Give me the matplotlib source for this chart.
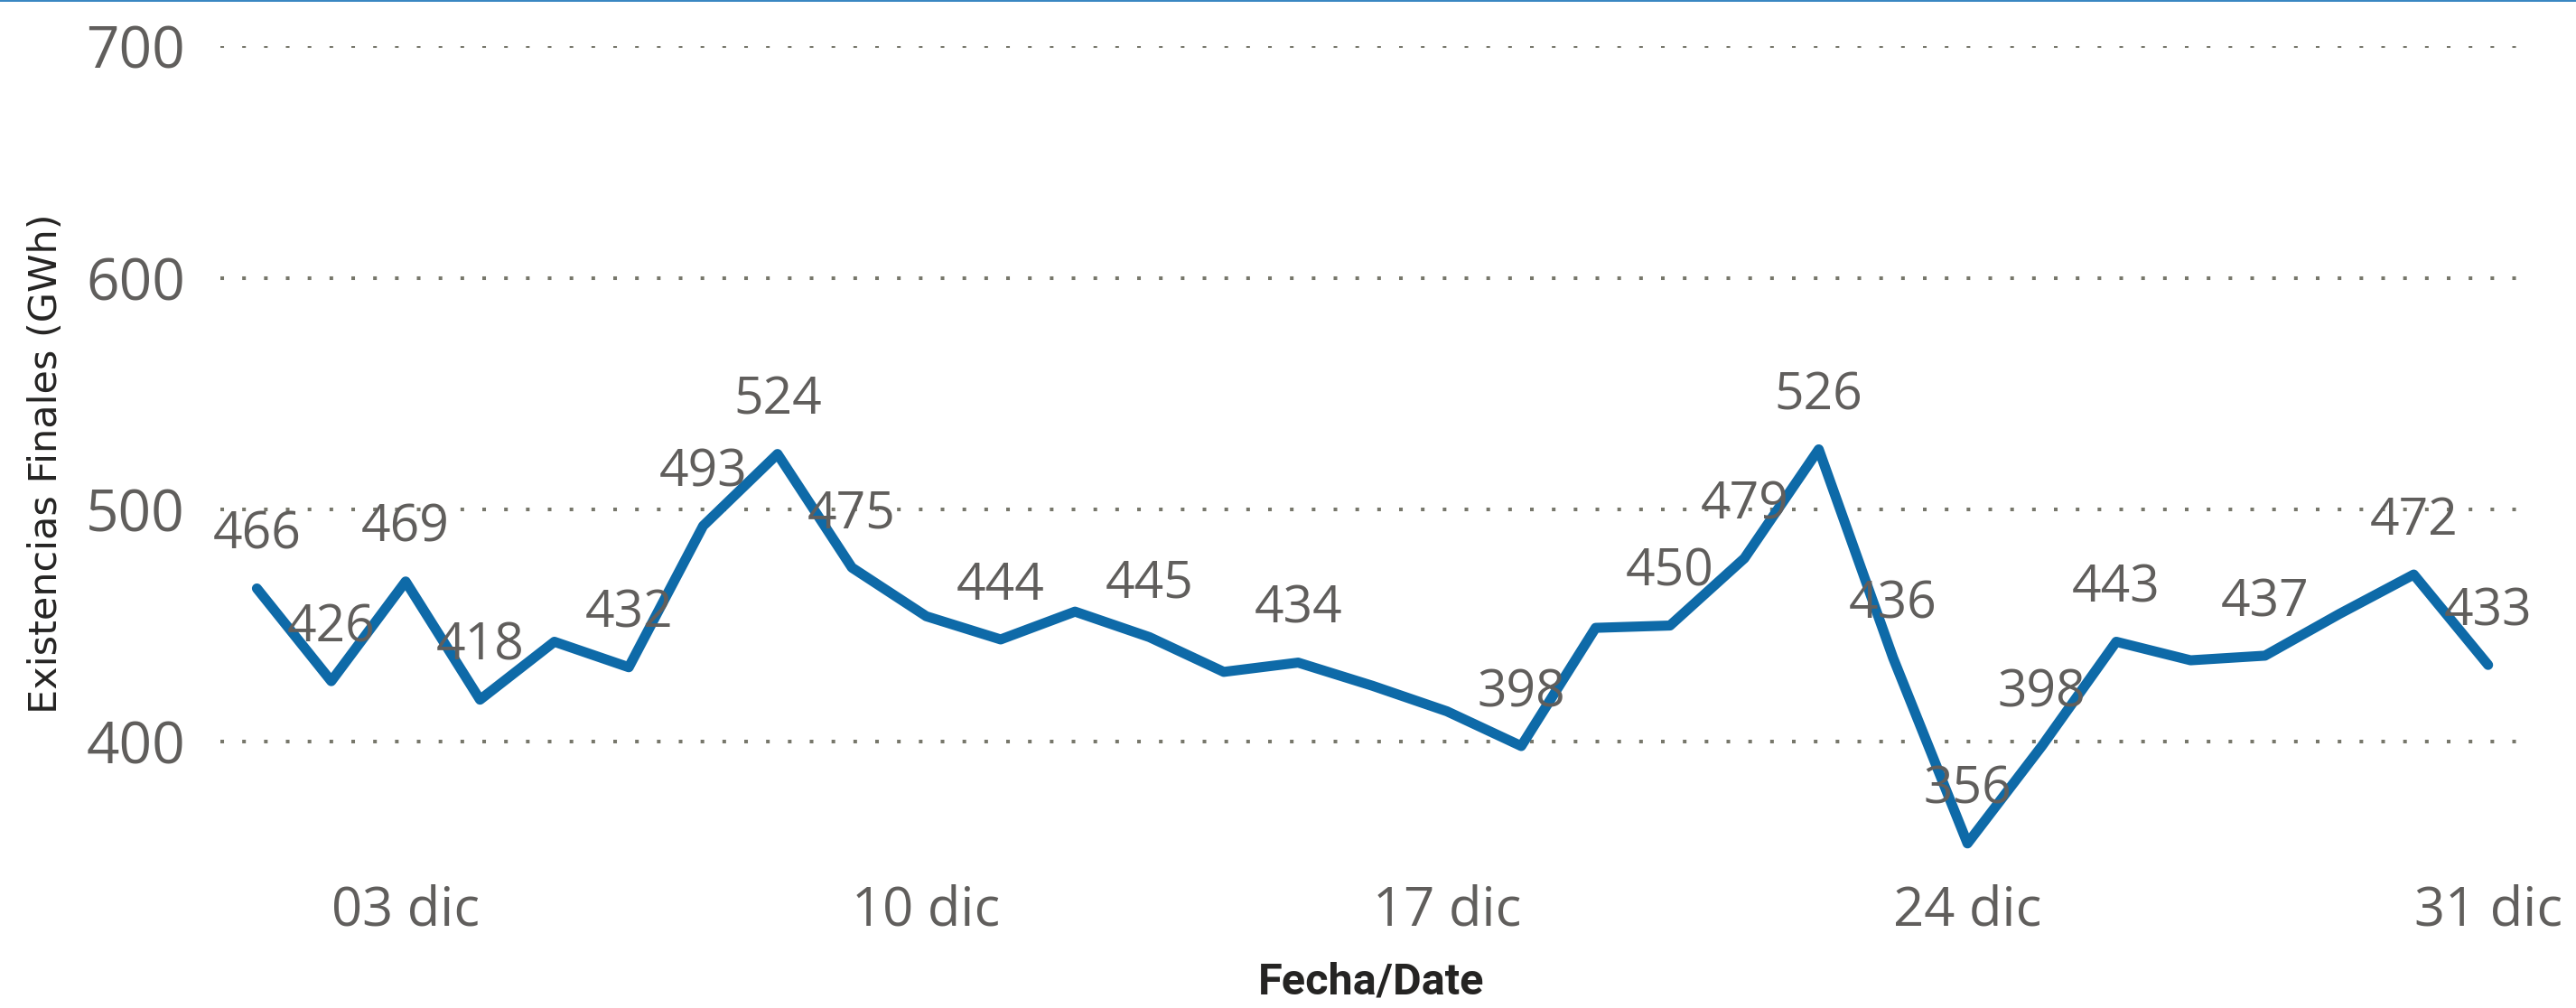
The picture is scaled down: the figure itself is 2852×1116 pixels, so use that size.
import matplotlib
matplotlib.use("Agg")
import matplotlib.pyplot as plt
from matplotlib.patches import Rectangle

# daily values, 1..31 dic
days = list(range(1, 32))
values = [466, 426, 469, 418, 443, 432, 493, 524, 475, 454,
          444, 456, 445, 430, 434, 424, 413, 398, 449, 450,
          479, 526, 436, 356, 398, 443, 435, 437, 455, 472, 433]
# which points carry a data label in the original
show_label = [1, 1, 1, 1, 0, 1, 1, 1, 1, 0,
              1, 0, 1, 0, 1, 0, 0, 1, 0, 1,
              1, 1, 1, 1, 1, 1, 0, 1, 0, 1, 1]
tick_days = [3, 10, 17, 24, 31]
tick_labels = ["03 dic", "10 dic", "17 dic", "24 dic", "31 dic"]
y_ticks = [400, 500, 600, 700]

line_color = "#0e6aa8"
text_color = "#605e5c"
grid_color = "#77776b"

W, H = 2852, 1116
fig = plt.figure(figsize=(W / 100, H / 100), dpi=100)
fig.patch.set_facecolor("white")

# thin blue rule along the top edge
fig.patches.append(Rectangle((0, 1 - 2 / H), 1, 2 / H, transform=fig.transFigure,
                             facecolor="#3a87c2", edgecolor="none"))

ax = fig.add_axes([244 / W, 1 - 962 / H, (2792 - 244) / W, (962 - 51) / H])
ax.plot(days, values, color=line_color, lw=8, solid_joinstyle="round",
        solid_capstyle="round", zorder=3)

for d, v, s in zip(days, values, show_label):
    if s:
        ax.annotate(str(v), (d, v), xytext=(0, 42), textcoords="offset points",
                    ha="center", va="center", fontsize=41, color=text_color,
                    family="Open Sans", zorder=4)

ax.set_xlim(0.509, 31.453)
ax.set_ylim(345, 700)
ax.set_yticks(y_ticks)
ax.set_yticklabels([str(t) for t in y_ticks], family="Open Sans", fontsize=46,
                   color=text_color)
ax.set_xticks(tick_days)
ax.set_xticklabels(tick_labels, family="Open Sans", fontsize=43, color=text_color)
ax.tick_params(axis="y", length=0, pad=28)
ax.tick_params(axis="x", length=0, pad=12)

ax.grid(axis="y", color=grid_color, lw=2.9, linestyle=(0, (1, 5)),
        dash_capstyle="butt")
ax.grid(axis="x", visible=False)
for sp in ax.spines.values():
    sp.set_visible(False)

fig.text(51 / W, 1 - 513 / H, "Existencias Finales (GWh)", rotation=90,
         ha="center", va="center", fontsize=31, color="#252423", family="DejaVu Sans")
fig.text((244 + 2792) / 2 / W, 1 - 1088 / H, "Fecha/Date", ha="center", va="center",
         fontsize=35, color="#252423", family="Roboto", fontweight="bold")

fig.savefig("out.png", dpi=100, facecolor="white")
